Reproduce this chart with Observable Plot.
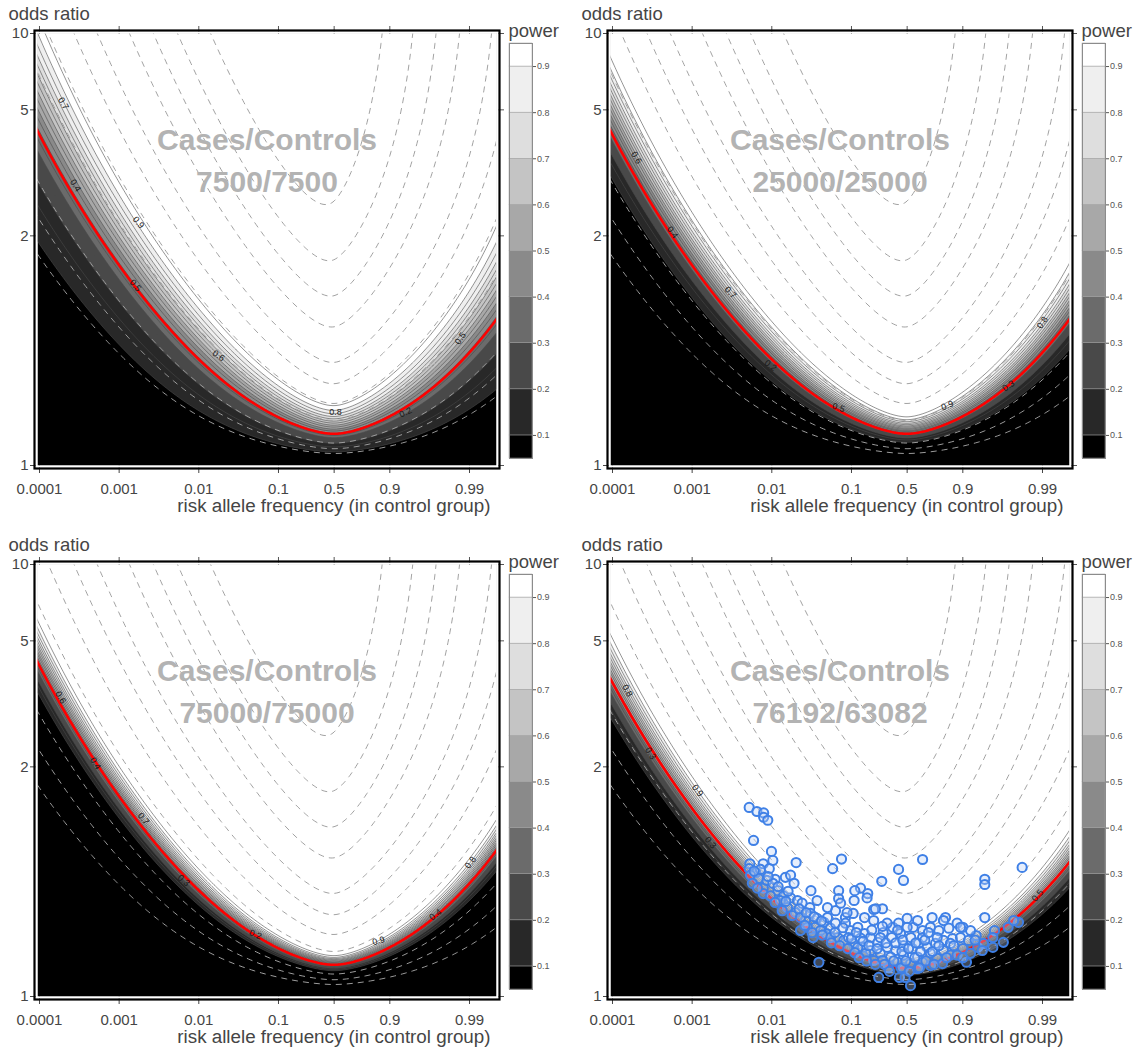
<!DOCTYPE html>
<html><head><meta charset="utf-8">
<script src="https://cdn.jsdelivr.net/npm/d3@7"></script>
<script src="https://cdn.jsdelivr.net/npm/@observablehq/plot@0.6"></script>
<style>
body{margin:0;background:#fff;font-family:"Liberation Sans",Arial,sans-serif;}
#grid{position:relative;width:1136px;height:1048px;overflow:hidden;}
.panel{position:absolute;width:568px;height:524px;}
.panel > div{position:absolute;}
</style></head><body><div id="grid"></div>
<script>
// ---- data ----
const freqTicks = [0.0001, 0.001, 0.01, 0.1, 0.5, 0.9, 0.99];
const orTicks = [1, 2, 5, 10];
const freqDomain = [0.0000944, 0.99542];
const orDomain = [1, 10];
const powerLevels = [0.1, 0.2, 0.3, 0.4, 0.5, 0.6, 0.7, 0.8, 0.9];
const powerLineLevels = [0.1, 0.15, 0.2, 0.25, 0.3, 0.35, 0.4, 0.45, 0.5, 0.55, 0.6, 0.65, 0.7, 0.75, 0.8, 0.85, 0.9, 0.95];
const bandColors = ["#000000", "#282828", "#494949", "#6b6b6b", "#8a8a8a", "#a8a8a8", "#c4c4c4", "#dedede", "#efefef", "#ffffff"];
const cases = [7500, 25000, 75000, 76192];
const controls = [7500, 25000, 75000, 63082];
const alphaZ = [1.96, 3.42, 5.45, 4.52];            // significance threshold (z) per panel
const redLevel = [3.7e-4, 3.7e-4, 3.7e-4, 2.86e-4];  // per-sample effect at the red curve
const dashedLevels = [0.19, 0.077, 0.039, 0.0197, 0.0078, 0.004, 0.0019, 0.00085, 0.00017, 0.00009, 0.000044];
// contour labels as printed in each panel: [frequency, odds ratio, label, angle]
const contourLabels = [
  [[0.0002,5.28,"0.7",60],[0.000283,2.76,"0.4",58],[0.00175,2.165,"0.9",50],[0.0016,1.555,"0.5",50],[0.0177,1.215,"0.6",35],[0.519,1.074,"0.8",0],[0.9365,1.074,"0.2",-25],[0.987,1.277,"0.5",-55]],
  [[0.0002,3.39,"0.6",60],[0.000566,2.04,"0.4",55],[0.00303,1.509,"0.7",45],[0.00964,1.184,"0.2",38],[0.0687,1.083,"0.5",20],[0.844,1.087,"0.9",-20],[0.9733,1.13,"0.3",-35],[0.99,1.345,"0.8",-55]],
  [[0.000184,3.17,"0.6",62],[0.000505,2.04,"0.4",57],[0.00202,1.541,"0.7",50],[0.00643,1.236,"0.3",40],[0.0515,1.091,"0.2",22],[0.861,1.079,"0.9",-15],[0.9733,1.135,"0.4",-35],[0.9903,1.305,"0.8",-55]],
  [[0.000154,3.34,"0.8",62],[0.0003,2.165,"0.3",58],[0.00117,1.759,"0.9",52],[0.0017,1.399,"0.3",50],[0.9885,1.187,"0.5",-50]]
];
const gwasHits = [
[0.0052,1.62],[0.0065,1.59],[0.0079,1.58],[0.0079,1.55],[0.0089,1.53],[0.0059,1.41],[0.0099,1.355],[0.0103,1.314],[0.0078,1.30],[0.0053,1.30],
[0.0202,1.305],[0.075,1.32],[0.058,1.28],[0.68,1.318],[0.39,1.277],[0.45,1.236],[0.24,1.233],[0.982,1.285],[0.947,1.24],[0.947,1.222],
[0.0052,1.28],[0.0063,1.265],[0.0072,1.277],[0.0093,1.28],[0.011,1.24],[0.0148,1.247],[0.0172,1.255],[0.019,1.226],[0.031,1.202],[0.0078,1.21],
[0.069,1.202],[0.13,1.21],[0.16,1.193],[0.157,1.18],[0.069,1.178],[0.108,1.1725],[0.245,1.15],[0.19,1.148],[0.030,1.153],[0.063,1.145],
[0.105,1.138],[0.084,1.128],[0.757,1.128],[0.835,1.128],[0.947,1.128],[0.882,1.115],[0.90,1.106],[0.932,1.089],[0.96,1.099],[0.98,1.117],
[0.969,1.076],[0.91,1.043],[0.039,1.043],[0.22,1.022],[0.40,1.022],[0.47,1.022],[0.546,1.012],
[0.0054,1.255],[0.0068,1.243],[0.0087,1.236],[0.0103,1.226],[0.0078,1.193],[0.0119,1.202],[0.014,1.186],[0.0128,1.1725],[0.0172,1.18],[0.021,1.1725],
[0.0157,1.153],[0.0198,1.14],[0.024,1.165],[0.0306,1.138],[0.0265,1.121],[0.037,1.126],[0.045,1.117],[0.035,1.106],[0.0545,1.104],[0.048,1.093],
[0.067,1.085],[0.084,1.115],[0.097,1.099],[0.12,1.106],[0.146,1.093],[0.08,1.0795],[0.105,1.074],[0.13,1.084],[0.173,1.085],[0.215,1.076],
[0.25,1.095],[0.33,1.106],[0.39,1.115],[0.5,1.126],[0.58,1.106],[0.68,1.099],[0.745,1.106],[0.80,1.099],[0.85,1.104],[0.28,1.067],
[0.36,1.0617],[0.45,1.07],[0.57,1.065],[0.64,1.074],[0.72,1.067],[0.78,1.074],[0.825,1.0795],[0.865,1.083],[0.893,1.085],[0.915,1.0795],
[0.825,1.0617],[0.745,1.057],[0.63,1.051],[0.45,1.054],[0.31,1.051],[0.23,1.057],[0.173,1.0617],[0.138,1.067],[0.19,1.0456],[0.38,1.043],
[0.546,1.041],[0.68,1.043],[0.79,1.049],[0.857,1.054],[0.90,1.065],[0.935,1.067],[0.945,1.074],[0.958,1.085],[0.973,1.106],[0.977,1.121],
[0.037,1.1725],[0.05,1.153],[0.073,1.165],[0.088,1.14],[0.146,1.128],[0.19,1.121],[0.28,1.115],[0.5,1.106],[0.63,1.121],[0.825,1.121],
[0.893,1.106],[0.92,1.099],[0.11,1.202],[0.20,1.15],[0.245,1.108],[0.413,1.093],[0.68,1.085],[0.79,1.085],[0.857,1.074],
[0.0057,1.226],[0.0066,1.21],[0.0096,1.186],[0.011,1.167],[0.0135,1.145],[0.018,1.133],[0.0229,1.128],[0.028,1.106],[0.0408,1.099],[0.0545,1.085],
[0.063,1.115],[0.05,1.128],[0.092,1.085],[0.12,1.067],[0.151,1.057],[0.245,1.0456],[0.29,1.035],[0.45,1.035],[0.63,1.034],[0.745,1.038],
[0.82,1.041],[0.882,1.054],[0.92,1.057],[0.943,1.0617],[0.958,1.067],[0.033,1.085],[0.0229,1.099],
[0.026,1.11],[0.032,1.095],[0.043,1.09],[0.056,1.075],[0.062,1.095],[0.071,1.07],[0.078,1.105],[0.09,1.065],[0.1,1.083],[0.11,1.058],
[0.115,1.095],[0.125,1.05],[0.14,1.078],[0.155,1.045],[0.165,1.07],[0.18,1.1],[0.2,1.04],[0.21,1.065],[0.23,1.085],[0.26,1.04],
[0.27,1.075],[0.3,1.03],[0.32,1.085],[0.34,1.045],[0.36,1.075],[0.38,1.1],[0.42,1.035],[0.43,1.06],[0.44,1.08],[0.48,1.045],
[0.52,1.065],[0.53,1.03],[0.55,1.085],[0.6,1.05],[0.61,1.075],[0.65,1.035],[0.66,1.06],[0.7,1.08],[0.71,1.045],[0.73,1.095],
[0.76,1.06],[0.77,1.04],[0.8,1.07],[0.84,1.05],[0.87,1.07],[0.9,1.05],[0.93,1.08],[0.012,1.215],[0.016,1.2],[0.015,1.17],
[0.022,1.15],[0.027,1.14],[0.034,1.13],[0.042,1.12],[0.009,1.25],[0.006,1.27]
];

// ---- scale transforms ----
const L2 = Math.log10(2);
const u = p => p <= 0.5 ? Math.log10(p) : -Math.log10(1 - p) - 2 * L2;
const uInv = x => x <= -L2 ? Math.pow(10, x) : 1 - Math.pow(10, -(x + 2 * L2));
const v = r => Math.log(r - 0.9);
const vInv = y => Math.exp(y) + 0.9;

function Phi(x) {
  const z = Math.abs(x) / Math.SQRT2;
  const t = 1 / (1 + 0.3275911 * z);
  const poly = t * (0.254829592 + t * (-0.284496736 + t * (1.421413741 + t * (-1.453152027 + t * 1.061405429))));
  const erf = 1 - poly * Math.exp(-z * z);
  return x >= 0 ? (1 + erf) / 2 : (1 - erf) / 2;
}
// per-sample noncentrality of the allelic test
function effect(p, r) {
  const p1 = r * p / (1 - p + r * p);
  const pb = (p + p1) / 2;
  return (p1 - p) * (p1 - p) / (pb * (1 - pb));
}

const font = '"Liberation Sans", Arial, sans-serif';
const uDom = freqDomain.map(u), vDom = orDomain.map(v);

function makePanel(i) {
  const N = 2 * cases[i] * controls[i] / (cases[i] + controls[i]);
  const z = alphaZ[i];
  const pw = (x, y) => { const s = Math.sqrt(N * effect(uInv(x), vInv(y))); return Phi(s - z) + Phi(-s - z); };
  const le = (x, y) => Math.log(effect(uInv(x), vInv(y)));
  const bounds = {x1: uDom[0], x2: uDom[1], y1: vDom[0], y2: vDom[1]};
  // line contours are sampled past the frame and clipped, so no closing edges show
  const wide = {x1: uDom[0] - 0.2, x2: uDom[1] + 0.2, y1: vDom[0] - 0.25, y2: vDom[1] + 0.25, clip: true, fill: "none", pixelSize: 1};
  const marks = [
    Plot.frame({fill: "black"}),
    Plot.contour({...bounds, fill: pw, thresholds: powerLevels, pixelSize: 1}),
    Plot.contour({...wide, value: pw, thresholds: powerLineLevels, stroke: "#4a4a4a", strokeWidth: 0.6}),
    Plot.contour({...wide, value: le, thresholds: dashedLevels.map(Math.log), stroke: "#a0a0a0", strokeWidth: 1, strokeDasharray: "6,5"}),
    Plot.contour({...wide, value: le, thresholds: [Math.log(redLevel[i])], stroke: "#ff0000", strokeWidth: 2.6}),
    Plot.text(contourLabels[i], {x: d => u(d[0]), y: d => v(d[1]), text: d => d[2], rotate: d => d[3], fontSize: 9, fill: "#1a1a1a"})
  ];
  if (i === 3) {
    marks.push(Plot.dot(gwasHits, {x: d => u(d[0]), y: d => v(d[1]), r: 4.6, stroke: "#3f80e6", strokeWidth: 2, fill: "#b8cff5", fillOpacity: 0.35}));
  }
  marks.push(
    Plot.text(["Cases/Controls"], {frameAnchor: "top", dy: 107, text: d => d, fontSize: 30, fontWeight: "bold", fill: "#b3b3b3", lineAnchor: "middle"}),
    Plot.text([`${cases[i]}/${controls[i]}`], {frameAnchor: "top", dy: 149, text: d => d, fontSize: 30, fontWeight: "bold", fill: "#b3b3b3", lineAnchor: "middle"}),
    Plot.text(["odds ratio"], {frameAnchor: "top-left", dx: -29, dy: -19, text: d => d, fontSize: 18.5, fill: "#454545", textAnchor: "start", lineAnchor: "middle"}),
    Plot.text(["risk allele frequency (in control group)"], {frameAnchor: "bottom-right", dx: -6, dy: 40, text: d => d, fontSize: 18.8, fill: "#454545", textAnchor: "end", lineAnchor: "middle"}),
    Plot.axisX({anchor: "bottom", ticks: freqTicks.map(u), tickFormat: d => String(+uInv(d).toPrecision(4)), tickSize: 8, tickPadding: 9.5, fontSize: 15, color: "#454545", label: null}),
    Plot.axisX({anchor: "top", ticks: freqTicks.map(u), tickFormat: () => "", tickSize: 8, color: "#555", label: null}),
    Plot.axisY({anchor: "left", ticks: orTicks.map(v), tickFormat: d => String(Math.round(vInv(d))), tickSize: 7, tickPadding: 2, fontSize: 15, color: "#454545", label: null}),
    Plot.axisY({anchor: "right", ticks: orTicks.map(v), tickFormat: () => "", tickSize: 7, color: "#555", label: null}),
    Plot.frame({stroke: "white", strokeWidth: 2, inset: -1}),
    Plot.frame({stroke: "black", strokeWidth: 2.2, inset: -3})
  );
  const main = Plot.plot({
    width: 568, height: 524,
    marginLeft: 37, marginRight: 72, marginTop: 33, marginBottom: 59,
    style: {fontFamily: font, background: "white"},
    x: {domain: uDom},
    y: {domain: vDom},
    color: {type: "threshold", domain: powerLevels, range: bandColors},
    marks
  });

  const bands = bandColors.map((c, k) => ({lo: k === 0 ? 0.05 : powerLevels[k - 1], hi: k === bandColors.length - 1 ? 0.95 : powerLevels[k], c}));
  const bar = Plot.plot({
    width: 73, height: 470,
    marginLeft: 14, marginRight: 36, marginTop: 43, marginBottom: 12,
    style: {fontFamily: font, background: "transparent", overflow: "visible"},
    x: {domain: [0, 1], axis: null},
    y: {domain: [0.05, 0.95]},
    marks: [
      Plot.rect(bands, {x1: 0, x2: 1, y1: "lo", y2: "hi", fill: "c", stroke: "#9c9c9c", strokeWidth: 0.5}),
      Plot.frame({stroke: "#8c8c8c", strokeWidth: 1}),
      Plot.axisY({anchor: "right", ticks: powerLevels, tickFormat: d3.format(".1f"), tickSize: 3, tickPadding: 1.5, fontSize: 9, color: "#555", label: null}),
      Plot.text(["power"], {frameAnchor: "top-left", dx: -1, dy: -12, text: d => d, fontSize: 18.5, fill: "#454545", textAnchor: "start", lineAnchor: "middle"})
    ]
  });

  const wrap = document.createElement("div");
  wrap.className = "panel";
  wrap.style.left = (i % 2) * 573 + "px";
  wrap.style.top = Math.floor(i / 2) * 531 + "px";
  const a = document.createElement("div"); a.style.left = "0px"; a.style.top = "0px"; a.appendChild(main);
  const b = document.createElement("div"); b.style.left = "495px"; b.style.top = "0px"; b.appendChild(bar);
  wrap.appendChild(a); wrap.appendChild(b);
  document.getElementById("grid").appendChild(wrap);
}
for (let i = 0; i < 4; i++) makePanel(i);
</script>
</body></html>
